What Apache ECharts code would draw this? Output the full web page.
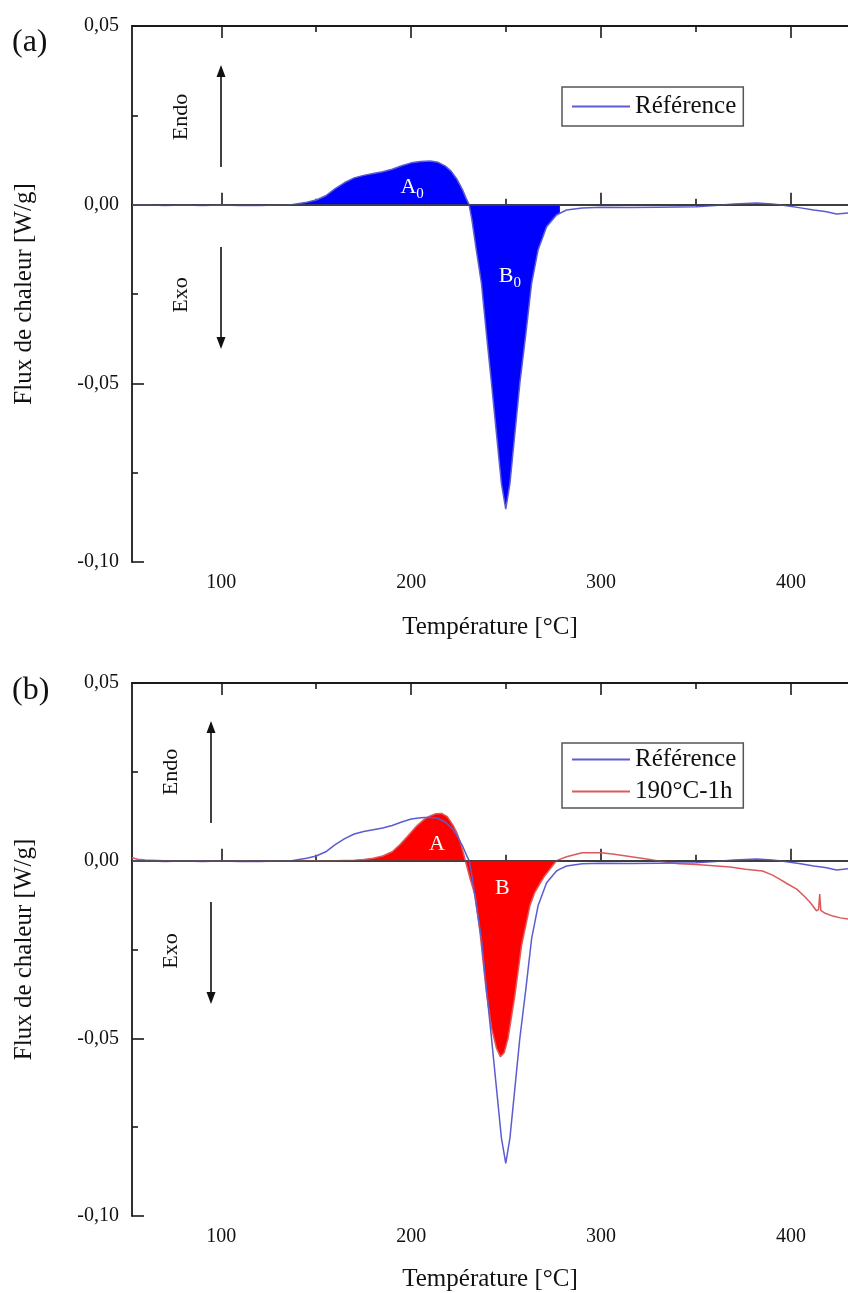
<!DOCTYPE html>
<html><head><meta charset="utf-8">
<script src="https://cdn.jsdelivr.net/npm/echarts@6/dist/echarts.min.js"></script>
<style>html,body{margin:0;padding:0;background:#fff}#c{width:848px;height:1293px}</style>
</head><body><div id="c"></div>
<script>
// ---- data ----
const refT = [53, 60, 70, 80, 90, 100, 110, 120, 130, 137, 145, 150, 155, 160, 165, 170, 175, 180, 185, 190, 195, 200, 205, 210, 214, 218, 221, 224, 227, 229, 230.5, 232, 234.3, 237, 239.6, 242.3, 244.9, 247.5, 249.8, 252, 254.6, 257.2, 260.4, 263.4, 266.8, 271.3, 276.5, 278.3, 281.8, 290, 300, 315, 330, 350, 360, 370, 382, 390, 395, 405, 412, 418, 424, 430];
const refFlux = [-0.0001, 0.0000, -0.0002, -0.0001, -0.0002, -0.0001, -0.0002, -0.0002, -0.0001, 0.0000, 0.0007, 0.0013, 0.0025, 0.0045, 0.0062, 0.0075, 0.0082, 0.0087, 0.0092, 0.0099, 0.0109, 0.0117, 0.0121, 0.0122, 0.0119, 0.0108, 0.0094, 0.0072, 0.0042, 0.0017, 0.0000, -0.0043, -0.0127, -0.0220, -0.0360, -0.0500, -0.0640, -0.0780, -0.0852, -0.0780, -0.0640, -0.0500, -0.0360, -0.0220, -0.0127, -0.0062, -0.0029, -0.0024, -0.0015, -0.0009, -0.0007, -0.0008, -0.0007, -0.0006, -0.0002, 0.0002, 0.0005, 0.0002, -0.0001, -0.0009, -0.0015, -0.0019, -0.0026, -0.0023];
const heatT = [53, 56, 60, 70, 80, 90, 100, 110, 120, 130, 140, 150, 160, 170, 175, 180, 185, 190, 194, 198, 203, 207, 210, 213, 216, 219, 222, 224, 226, 227.4, 228.5, 231, 233.7, 236.2, 239.6, 242.3, 244.9, 247, 249, 251, 254.6, 258.1, 262.5, 265, 267.7, 270, 273, 276.5, 281.8, 290, 300, 306, 315, 324, 335, 341, 350, 359, 368, 376, 385, 390, 394, 398, 403, 407, 410, 413.4, 414.5, 415.1, 415.7, 418, 422, 426, 430];
const heatFlux = [0.0008, 0.0004, 0.0002, 0.0000, -0.0001, 0.0000, -0.0001, 0.0000, -0.0001, 0.0000, 0.0000, 0.0000, 0.0000, 0.0001, 0.0003, 0.0007, 0.0013, 0.0025, 0.0045, 0.0068, 0.0098, 0.0117, 0.0126, 0.0132, 0.0133, 0.0124, 0.0100, 0.0079, 0.0050, 0.0023, 0.0000, -0.0050, -0.0099, -0.0200, -0.0370, -0.0470, -0.0528, -0.0552, -0.0540, -0.0500, -0.0379, -0.0239, -0.0127, -0.0090, -0.0065, -0.0045, -0.0024, 0.0000, 0.0011, 0.0022, 0.0022, 0.0019, 0.0012, 0.0005, -0.0005, -0.0009, -0.0011, -0.0014, -0.0018, -0.0024, -0.0029, -0.0040, -0.0052, -0.0065, -0.0080, -0.0100, -0.0117, -0.0141, -0.0138, -0.0094, -0.0140, -0.0148, -0.0156, -0.0161, -0.0164];
const seriesNames = ['Référence', '190°C-1h'];
const xMajorTicks = [100, 200, 300, 400];
const xMinorTicks = [150, 250, 350];
const yMinorTicks = [-0.075, -0.025, 0.025];
const fillRefRange = [137, 278.3];
const fillHeatRange = [170, 276.5];
const xRange = [53, 430];
const yRange = [-0.10, 0.05];
const yStep = 0.05;

// ---- helpers ----
const FONT = '"Liberation Serif", "Times New Roman", serif';
const pairs = (xs, ys) => xs.map((x, i) => [x, ys[i]]);
const within = (xs, ys, r) => pairs(xs, ys).filter(p => p[0] >= r[0] && p[0] <= r[1]);
const refData = pairs(refT, refFlux);
const heatData = pairs(heatT, heatFlux);
const fmtY = v => (Math.abs(v) < 1e-9 ? 0 : v).toFixed(2).replace('.', ',');
const AXIS_C = '#1a1a1a';

const grids = [
  { left: 132, top: 26, height: 536, right: 0 },
  { left: 132, top: 683, height: 535, right: 0 }
];

function xAxesFor(g, nameGap) {
  const base = { type: 'value', gridIndex: g, min: xRange[0], max: xRange[1], splitLine: { show: false } };
  const line = { show: true, lineStyle: { color: AXIS_C, width: 1.8 } };
  return [
    Object.assign({}, base, {
      position: 'bottom', axisLine: line,
      axisTick: { show: true, inside: true, length: 12, customValues: xMajorTicks, lineStyle: { color: AXIS_C, width: 1.6 } },
      axisLabel: { show: true, customValues: xMajorTicks, margin: 11, fontFamily: FONT, fontSize: 20, color: '#111' },
      name: 'Température [°C]', nameLocation: 'middle', nameGap: nameGap,
      nameTextStyle: { fontFamily: FONT, fontSize: 25, color: '#111' }
    }),
    Object.assign({}, base, {
      position: 'bottom', axisLine: { show: false },
      axisTick: { show: true, inside: true, length: 6, customValues: xMinorTicks, lineStyle: { color: AXIS_C, width: 1.6 } },
      axisLabel: { show: false }
    }),
    Object.assign({}, base, {
      position: 'top', axisLine: line,
      axisTick: { show: true, inside: true, length: 12, customValues: xMajorTicks, lineStyle: { color: AXIS_C, width: 1.6 } },
      axisLabel: { show: false }
    }),
    Object.assign({}, base, {
      position: 'top', axisLine: { show: false },
      axisTick: { show: true, inside: true, length: 6, customValues: xMinorTicks, lineStyle: { color: AXIS_C, width: 1.6 } },
      axisLabel: { show: false }
    })
  ];
}

function yAxesFor(g) {
  const base = { type: 'value', gridIndex: g, position: 'left', min: yRange[0], max: yRange[1], splitLine: { show: false } };
  return [
    Object.assign({}, base, {
      interval: yStep,
      axisLine: { show: true, lineStyle: { color: AXIS_C, width: 1.8 } },
      axisTick: { show: true, inside: true, length: 12, lineStyle: { color: AXIS_C, width: 1.6 } },
      axisLabel: { formatter: fmtY, margin: 13, fontFamily: FONT, fontSize: 20, color: '#111' },
      name: 'Flux de chaleur [W/g]', nameLocation: 'middle', nameGap: 95,
      nameTextStyle: { fontFamily: FONT, fontSize: 25, color: '#111' }
    }),
    Object.assign({}, base, {
      axisLine: { show: false },
      axisTick: { show: true, inside: true, length: 6, customValues: yMinorTicks, lineStyle: { color: AXIS_C, width: 1.6 } },
      axisLabel: { show: false }
    })
  ];
}

const zeroLine = {
  silent: true, symbol: 'none', label: { show: false },
  lineStyle: { color: '#4a4a4a', width: 1.6, type: 'solid' },
  data: [{ yAxis: 0 }]
};
const peakLabel = (coord, main, sub) => ({
  coord: coord, symbolSize: 0,
  label: {
    show: true, position: 'inside',
    formatter: sub ? '{m|' + main + '}{s|' + sub + '}' : '{m|' + main + '}',
    rich: {
      m: { fontFamily: FONT, fontSize: 22, color: '#fff', verticalAlign: 'top' },
      s: { fontFamily: FONT, fontSize: 15, color: '#fff', verticalAlign: 'bottom', padding: [10, 0, 0, 0] }
    }
  }
});

const BLUE_LINE = '#5c5cd2';
const RED_LINE = '#dc5a5a';
const legendBase = {
  orient: 'vertical', left: 562, icon: 'rect',
  borderColor: '#555', borderWidth: 1.5,
  itemWidth: 58, itemHeight: 2, itemGap: 7,
  textStyle: { fontFamily: FONT, fontSize: 25, color: '#111' }
};

const option = {
  backgroundColor: '#fff',
  animation: false,
  grid: grids,
  xAxis: xAxesFor(0, 53).concat(xAxesFor(1, 51)),
  yAxis: yAxesFor(0).concat(yAxesFor(1)),
  legend: [
    Object.assign({}, legendBase, { data: [seriesNames[0]], top: 87, padding: [7, 7, 7, 10] }),
    Object.assign({}, legendBase, { data: seriesNames, top: 743, padding: [4, 7, 4, 10] })
  ],
  series: [
    {
      name: 'A0-B0', type: 'line', xAxisIndex: 0, yAxisIndex: 0, z: 2,
      data: within(refT, refFlux, fillRefRange), symbol: 'none',
      lineStyle: { opacity: 0 }, areaStyle: { color: '#0000ff', opacity: 1 },
      markPoint: { symbol: 'circle', data: [peakLabel([200.5, 0.0045], 'A', '0'), peakLabel([252, -0.0205], 'B', '0')] }
    },
    {
      name: seriesNames[0], type: 'line', xAxisIndex: 0, yAxisIndex: 0, z: 3,
      data: refData, symbol: 'none', color: BLUE_LINE,
      lineStyle: { color: BLUE_LINE, width: 1.5 },
      markLine: zeroLine
    },
    {
      name: 'A-B', type: 'line', xAxisIndex: 4, yAxisIndex: 2, z: 2,
      data: within(heatT, heatFlux, fillHeatRange), symbol: 'none',
      lineStyle: { opacity: 0 }, areaStyle: { color: '#ff0000', opacity: 1 },
      markPoint: { symbol: 'circle', data: [peakLabel([213.5, 0.0047], 'A'), peakLabel([248, -0.0078], 'B')] }
    },
    {
      name: seriesNames[1], type: 'line', xAxisIndex: 4, yAxisIndex: 2, z: 3,
      data: heatData, symbol: 'none', color: RED_LINE,
      lineStyle: { color: RED_LINE, width: 1.5 },
      markLine: zeroLine
    },
    {
      name: seriesNames[0], type: 'line', xAxisIndex: 4, yAxisIndex: 2, z: 4,
      data: refData, symbol: 'none', color: BLUE_LINE,
      lineStyle: { color: BLUE_LINE, width: 1.5 }
    }
  ],
  graphic: [
    { type: 'text', left: 12, top: 27, style: { text: '(a)', font: '32px ' + FONT, fill: '#111' } },
    { type: 'text', left: 12, top: 675, style: { text: '(b)', font: '32px ' + FONT, fill: '#111' } },
    // panel (a) Endo / Exo
    { type: 'text', x: 181, y: 117, rotation: Math.PI / 2, style: { text: 'Endo', font: '22px ' + FONT, fill: '#111', align: 'center', verticalAlign: 'middle' } },
    { type: 'line', shape: { x1: 221, y1: 167, x2: 221, y2: 74 }, style: { stroke: '#111', lineWidth: 1.6 } },
    { type: 'polygon', shape: { points: [[221, 65], [216.5, 77], [225.5, 77]] }, style: { fill: '#111' } },
    { type: 'text', x: 181, y: 295, rotation: Math.PI / 2, style: { text: 'Exo', font: '22px ' + FONT, fill: '#111', align: 'center', verticalAlign: 'middle' } },
    { type: 'line', shape: { x1: 221, y1: 247, x2: 221, y2: 340 }, style: { stroke: '#111', lineWidth: 1.6 } },
    { type: 'polygon', shape: { points: [[221, 349], [216.5, 337], [225.5, 337]] }, style: { fill: '#111' } },
    // panel (b) Endo / Exo
    { type: 'text', x: 171, y: 772, rotation: Math.PI / 2, style: { text: 'Endo', font: '22px ' + FONT, fill: '#111', align: 'center', verticalAlign: 'middle' } },
    { type: 'line', shape: { x1: 211, y1: 823, x2: 211, y2: 730 }, style: { stroke: '#111', lineWidth: 1.6 } },
    { type: 'polygon', shape: { points: [[211, 721], [206.5, 733], [215.5, 733]] }, style: { fill: '#111' } },
    { type: 'text', x: 171, y: 951, rotation: Math.PI / 2, style: { text: 'Exo', font: '22px ' + FONT, fill: '#111', align: 'center', verticalAlign: 'middle' } },
    { type: 'line', shape: { x1: 211, y1: 902, x2: 211, y2: 995 }, style: { stroke: '#111', lineWidth: 1.6 } },
    { type: 'polygon', shape: { points: [[211, 1004], [206.5, 992], [215.5, 992]] }, style: { fill: '#111' } }
  ]
};

const chart = echarts.init(document.getElementById('c'), null, { renderer: 'canvas' });
chart.setOption(option);
</script>
</body></html>
